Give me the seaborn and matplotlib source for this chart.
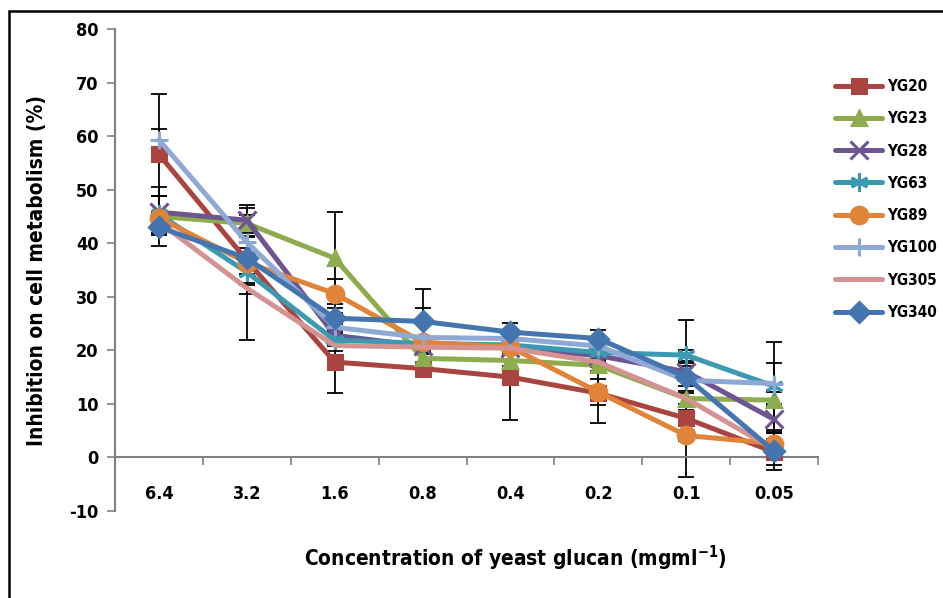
import seaborn as sns
import matplotlib.pyplot as plt
import pandas as pd
import numpy as np
from matplotlib.patches import Rectangle

# Données
conc = ['6.4', '3.2', '1.6', '0.8', '0.4', '0.2', '0.1', '0.05']
series = ['YG20', 'YG23', 'YG28', 'YG63', 'YG89', 'YG100', 'YG305', 'YG340']

yg20 = [56.6, 36.8, 17.8, 16.6, 15.0, 12.0, 7.3, 1.0]
yg23 = [45.0, 43.7, 37.2, 18.5, 18.1, 17.2, 11.0, 10.7]
yg28 = [45.8, 44.3, 22.8, 20.8, 20.5, 19.0, 16.0, 7.1]
yg63 = [45.4, 34.6, 21.9, 21.3, 21.0, 19.6, 19.1, 13.3]
yg89 = [44.7, 36.4, 30.6, 21.5, 20.6, 12.2, 4.1, 2.6]
yg100 = [59.3, 40.2, 24.3, 22.4, 22.2, 20.8, 14.4, 13.8]
yg305 = [44.0, 31.6, 20.9, 20.6, 20.4, 17.8, 11.0, 1.5]
yg340 = [43.0, 37.2, 26.0, 25.4, 23.4, 22.2, 15.0, 1.2]

err20 = [11.2, 4.6, 5.8, 1.0, 8.0, 5.6, 1.5, 2.5]
err23 = [5.5, 1.5, 8.6, 1.0, 1.0, 1.0, 14.6, 1.5]
err28 = [3.0, 2.3, 1.0, 1.0, 1.0, 1.0, 1.0, 2.5]
err63 = [3.4, 12.6, 1.0, 1.0, 1.0, 1.0, 1.0, 8.2]
err89 = [1.0, 1.0, 2.7, 1.0, 1.0, 2.5, 1.0, 2.0]
err100 = [2.0, 1.0, 1.0, 5.5, 1.0, 1.0, 1.0, 3.8]
err305 = [1.0, 1.0, 1.0, 1.0, 1.0, 1.0, 1.0, 2.0]
err340 = [1.5, 3.0, 1.0, 6.1, 1.7, 1.6, 2.6, 3.5]

values = [yg20, yg23, yg28, yg63, yg89, yg100, yg305, yg340]
errors = [err20, err23, err28, err63, err89, err100, err305, err340]

colors = ['#AA4440', '#8CAC4E', '#6E5592', '#3B9AB2', '#E0843A',
          '#8EA9D6', '#D49392', '#4475AE']
markers = ['s', '^', 'x', (6, 2, 0), 'o', '+', None, 'D']

df = pd.DataFrame({
    'pos': np.tile(np.arange(len(conc)), len(series)),
    'value': np.concatenate(values),
    'err': np.concatenate(errors),
    'serie': np.repeat(series, len(conc)),
})

sns.set_theme(style="white")
plt.rcParams['font.family'] = ['DejaVu Sans']
plt.rcParams['font.stretch'] = 'condensed'
plt.rcParams['font.weight'] = 'bold'
plt.rcParams['text.color'] = 'black'
plt.rcParams['xtick.color'] = 'black'
plt.rcParams['ytick.color'] = 'black'
plt.rcParams['axes.labelcolor'] = 'black'
plt.rcParams['axes.unicode_minus'] = False

fig = plt.figure(figsize=(9.43, 5.98), dpi=100)
ax = fig.add_axes([115 / 943, 1 - 511 / 598, 703 / 943, 482 / 598])

# Barres d'erreur (derrière les courbes)
for s in series:
    d = df[df['serie'] == s]
    ax.errorbar(d['pos'], d['value'], yerr=d['err'], fmt='none',
                ecolor='black', elinewidth=1.3, capsize=6, capthick=1.3,
                zorder=1)

for s, c, m in zip(series, colors, markers):
    d = df[df['serie'] == s]
    kw = dict(marker=m, markersize=10, markeredgewidth=2.2,
              markeredgecolor=c, markerfacecolor=c) if m else {}
    if m == 'o':
        kw['markersize'] = 12
    if m in ('x', (6, 2, 0), '+'):
        kw['markersize'] = 13
    sns.lineplot(data=d, x='pos', y='value', color=c, linewidth=3.6,
                 label=s, ax=ax, zorder=3, **kw)

ax.set_xlim(-0.5, 7.5)
ax.set_ylim(-10, 80)
ax.set_yticks(np.arange(-10, 81, 10))
ax.set_xticks(np.arange(-0.5, 7.6, 1))
ax.set_xticklabels([])
ax.set_xticks(np.arange(len(conc)), minor=True)
ax.set_xticklabels(conc, minor=True)
ax.tick_params(axis='x', which='major', direction='out', length=6,
               color='#808080', width=1.2, bottom=True)
ax.tick_params(axis='x', which='minor', length=0, pad=20, labelsize=13)
ax.tick_params(axis='y', direction='out', length=6, color='#808080',
               width=1.2, left=True, labelsize=13, pad=6)

for sp in ['top', 'right']:
    ax.spines[sp].set_visible(False)
ax.spines['bottom'].set_position(('data', 0))
for sp in ['left', 'bottom']:
    ax.spines[sp].set_color('#808080')
    ax.spines[sp].set_linewidth(1.5)
ax.set_xlabel('')
ax.set_ylabel('Inhibition on cell metabolism (%)', fontsize=15,
              fontweight='bold', labelpad=16)
fig.text(515 / 943, 1 - 558 / 598,
         'Concentration of yeast glucan (mgml$^{\\mathregular{-1}}$)',
         ha='center', va='center', fontsize=15, fontweight='bold')

ax.get_legend().remove()
h, l = ax.get_legend_handles_labels()
fig.legend(h, l, loc='upper left', bbox_to_anchor=(832 / 943, 1 - 76 / 598),
           frameon=False, fontsize=11, handlelength=3.1, handletextpad=0.3,
           labelspacing=1.13, borderpad=0.2, borderaxespad=0)

# Cadre de la figure
fig.patches.append(Rectangle((9 / 943, -0.1), 1.2, 1.1 - 11 / 598,
                             transform=fig.transFigure, fill=False,
                             edgecolor='black', linewidth=1.8))

fig.savefig('out.png', dpi=100)
